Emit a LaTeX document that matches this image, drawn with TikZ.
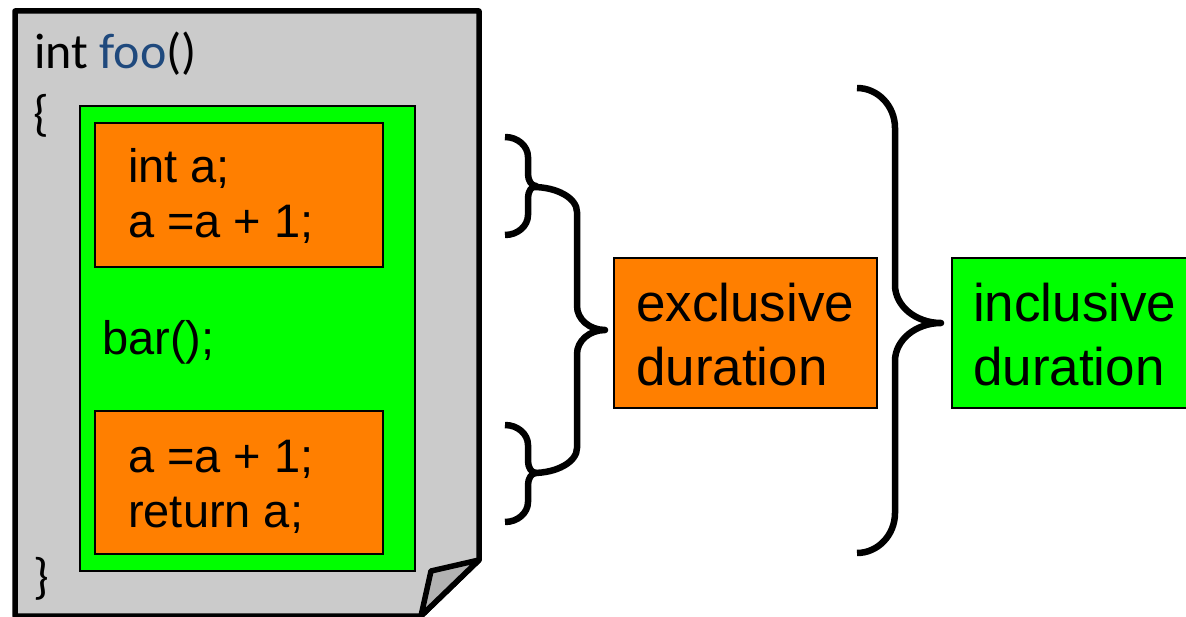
\documentclass[tikz,border=0pt]{standalone}
\usepackage{fontspec}
\setmainfont{Liberation Sans}
\newfontfamily\calfont{Carlito}
\definecolor{pagegray}{RGB}{203,203,203}
\definecolor{foldgray}{RGB}{178,178,178}
\definecolor{codegreen}{RGB}{0,255,0}
\definecolor{codeorange}{RGB}{255,127,0}
\definecolor{fooblue}{RGB}{31,73,125}
% brace: x0 end, x1 spine, x2 tip, ytop, ymid, ybot, r ends, r middle
\newcommand\mybrace[8]{%
  (#1,#4) .. controls ({#1+0.55*(#2-#1)},#4) and (#2,{#4+0.45*#7}) .. (#2,#4+#7) -- (#2,#5-#8)
  .. controls (#2,{#5-0.45*#8}) and ({#2+0.45*(#3-#2)},#5) .. (#3,#5)
  .. controls ({#2+0.45*(#3-#2)},#5) and (#2,{#5+0.45*#8}) .. (#2,#5+#8)
  -- (#2,#6-#7) .. controls (#2,{#6-0.45*#7}) and ({#1+0.55*(#2-#1)},#6) .. (#1,#6)}
\begin{document}
\begin{tikzpicture}[x=1pt,y=-1pt,
  box/.style={draw=black,line width=1.8pt,inner sep=0pt,outer sep=0pt},
  codetxt/.style={anchor=base west,inner sep=0pt,font=\fontsize{47}{55}\selectfont},
  bigtxt/.style={anchor=base west,inner sep=0pt,font=\fontsize{53}{63}\selectfont},
  caltxt/.style={anchor=base west,inner sep=0pt,font=\calfont\fontsize{50}{58}\selectfont},
  bracestyle/.style={draw=black,line width=6.5pt,line cap=butt,line join=round}]
\useasboundingbox (0,0) rectangle (1186,617);
\clip (0,0) rectangle (1186,617);
% page
\draw[fill=pagegray,line width=5.5pt,line join=round]
  (15,11) -- (479,11) -- (479,560) -- (421,616) -- (15,616) -- cycle;
\draw[fill=foldgray,line width=5.5pt,line join=round]
  (479,560) -- (431,571) -- (421,616) -- cycle;
% boxes
\node[box,fill=codegreen,minimum width=335pt,minimum height=465pt] (body) at (247.5,338.5) {};
\node[box,fill=codeorange,minimum width=288pt,minimum height=144pt] (top) at (239,195) {};
\node[box,fill=codeorange,minimum width=288pt,minimum height=143pt] (bot) at (239,482.5) {};
\node[box,fill=codeorange,minimum width=263pt,minimum height=150pt] (excl) at (745.5,333) {};
\node[box,fill=codegreen,minimum width=260pt,minimum height=150pt] (incl) at (1082,333) {};
% texts
\node[caltxt] (sig) at (34,69) {int \textcolor{fooblue}{foo}()};
\node[caltxt] (lb) at (33,131) {\{};
\node[caltxt] (rb) at (33,593) {\}};
\node[codetxt] (l1) at (128,183) {int a;};
\node[codetxt] (l2) at (128,238) {a =a + 1;};
\node[codetxt] (l3) at (102,355) {bar();};
\node[codetxt] (l4) at (128,472) {a =a + 1;};
\node[codetxt] (l5) at (128,527) {return a;};
\node[bigtxt] (e1) at (636,322) {exclusive};
\node[bigtxt] (e2) at (636,385) {duration};
\node[bigtxt] (i1) at (973,322) {inclusive};
\node[bigtxt] (i2) at (973,386) {duration};
% braces
\draw[bracestyle] \mybrace{505}{528}{536}{137}{186}{235}{20}{12};
\draw[bracestyle] \mybrace{505}{528}{536}{425}{473}{522}{20}{12};
\draw[bracestyle] \mybrace{533}{577}{605}{187}{330}{473}{25}{24};
\draw[bracestyle] \mybrace{857}{895}{941}{88}{323}{553}{40}{38};
\end{tikzpicture}
\end{document}
